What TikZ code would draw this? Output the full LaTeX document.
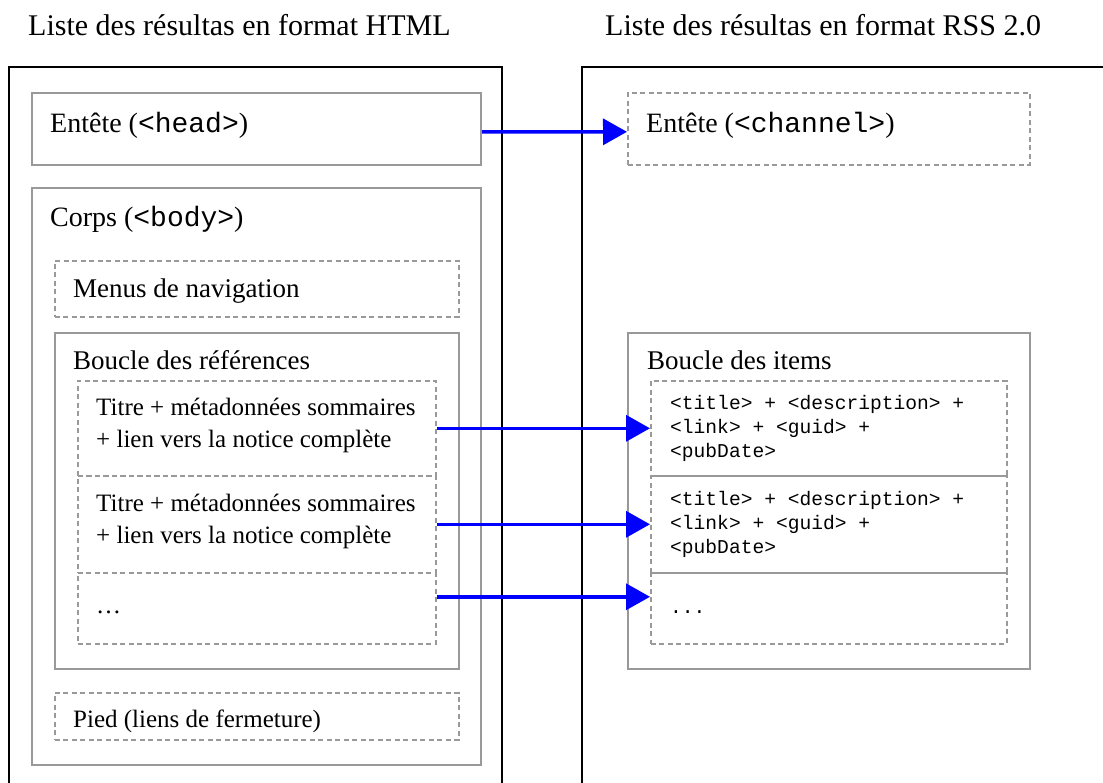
\documentclass[tikz,border=0pt]{standalone}
\usepackage{fontspec}
\setmainfont{Liberation Serif}
\setmonofont{Liberation Mono}
\usetikzlibrary{arrows.meta}
\definecolor{boxgray}{RGB}{153,153,153}
\definecolor{linkblue}{RGB}{0,0,255}
\newcommand\titlesize{\fontsize{30}{36}\selectfont}
\newcommand\partsize{\fontsize{28}{32}\selectfont}
\newcommand\subsize{\fontsize{27}{31}\selectfont}
\newcommand\refsize{\fontsize{25}{32}\selectfont}
\newcommand\codesize{\fontsize{19.6}{24}\selectfont\ttfamily}
\begin{document}
\begin{tikzpicture}[x=1pt,y=-1pt,
  frame/.style={draw=black,line width=2pt},
  plain/.style={draw=boxgray,line width=2pt,anchor=north west,inner sep=0pt},
  dashbox/.style={draw=boxgray,line width=1.6pt,dash pattern=on 5pt off 3.5pt,anchor=north west,inner sep=0pt},
  txt/.style={anchor=base west,inner sep=0pt,align=left},
  link/.style={draw=linkblue,line width=3.5pt,-{Triangle[length=24pt,width=26pt]}}]
\useasboundingbox (0,0) rectangle (1103,783);
\clip (0,0) rectangle (1103,783);
% titles
\node[txt,font=\titlesize] (htmltitle) at (28,36) {Liste des résultas en format HTML};
\node[txt,font=\titlesize] (rsstitle) at (605,36) {Liste des résultas en format RSS 2.0};
% outer frames
\draw[frame] (9,800) |- (502,67.5) -- (502,800);
\draw[frame] (582,800) |- (1110,67.5);
% HTML side
\node[plain,minimum width=449pt,minimum height=72pt] (head) at (31,92) {};
\node[txt,font=\partsize] (headtxt) at (50,133) {Entête (\texttt{<head>})};
\node[plain,minimum width=449pt,minimum height=577pt] (body) at (31,187) {};
\node[txt,font=\partsize] (bodytxt) at (50,227) {Corps (\texttt{<body>})};
\node[dashbox,minimum width=404pt,minimum height=56pt] (menus) at (54,260) {};
\node[txt,font=\subsize] (menustxt) at (73,298) {Menus de navigation};
\node[plain,minimum width=404pt,minimum height=336pt] (refloop) at (54,332) {};
\node[txt,font=\subsize] (refloottxt) at (73,370) {Boucle des références};
\node[dashbox,minimum width=358pt,minimum height=95pt] (ref1) at (77,380) {};
\node[dashbox,minimum width=358pt,minimum height=97pt] (ref2) at (77,475) {};
\node[dashbox,minimum width=358pt,minimum height=71pt] (ref3) at (77,572) {};
% multi-line nodes: base is the last line
\node[txt,font=\refsize] (ref1txt) at (96,447) {Titre + métadonnées sommaires\\+ lien vers la notice complète};
\node[txt,font=\refsize] (ref2txt) at (96,543) {Titre + métadonnées sommaires\\+ lien vers la notice complète};
\node[txt,font=\refsize] (ref3txt) at (96,613) {…};
\node[dashbox,minimum width=404pt,minimum height=47pt] (foot) at (54,692) {};
\node[txt,font=\refsize] (foottxt) at (73,727) {Pied (liens de fermeture)};
% RSS side
\node[dashbox,minimum width=402pt,minimum height=72pt] (chan) at (627,92) {};
\node[txt,font=\partsize] (chantxt) at (646,133) {Entête (\texttt{<channel>})};
\node[plain,minimum width=402pt,minimum height=336pt] (itemloop) at (627,332) {};
\node[txt,font=\subsize] (itemlooptxt) at (647,370) {Boucle des items};
\node[dashbox,minimum width=356pt,minimum height=95pt] (item1) at (650,380) {};
\node[dashbox,minimum width=356pt,minimum height=97pt] (item2) at (650,475) {};
\node[dashbox,minimum width=356pt,minimum height=71pt] (item3) at (650,572) {};
\node[txt,font=\codesize] (item1txt) at (670,457) {<title> + <description> +\\<link> + <guid> +\\<pubDate>};
\node[txt,font=\codesize] (item2txt) at (670,553) {<title> + <description> +\\<link> + <guid> +\\<pubDate>};
\node[txt,font=\codesize] (item3txt) at (670,613) {...};
% links
\draw[link] ([yshift=-3pt]head.east) -- ([yshift=-3pt]chan.west);
\draw[link] (ref1.east) -- (item1.west);
\draw[link] (ref2.east) -- (item2.west);
\draw[link] ([yshift=11.5pt]ref3.east) -- ([yshift=11.5pt]item3.west);
\end{tikzpicture}
\end{document}
